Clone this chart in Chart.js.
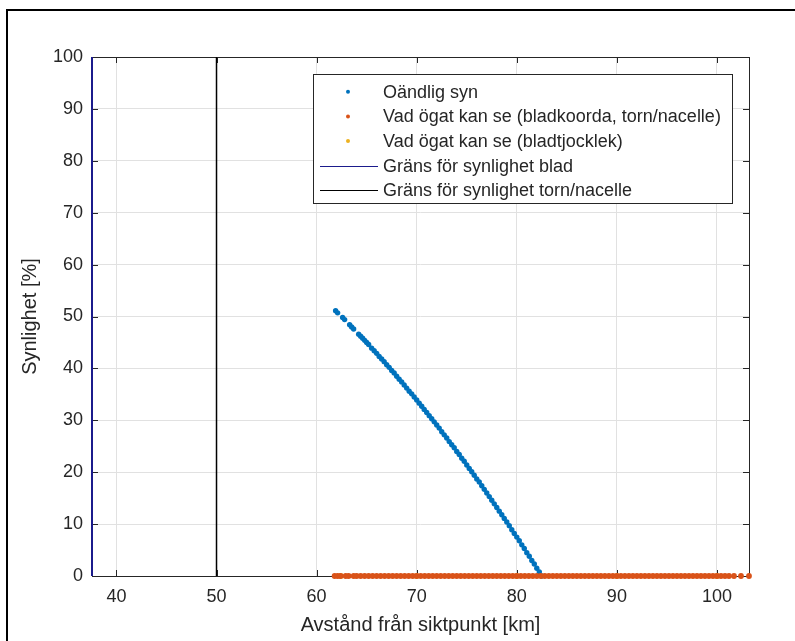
<!DOCTYPE html>
<html>
<head>
<meta charset="utf-8">
<script src="https://cdn.jsdelivr.net/npm/chart.js@4"></script>
<style>
    body { margin: 0; background: #fff; }
    #chart { display: block; }
</style>
</head>
<body>
<canvas id="chart" width="795" height="641"></canvas>
<script>
// Data
const seriesLabels = [
    'Oändlig syn',
    'Vad ögat kan se (bladkoorda, torn/nacelle)',
    'Vad ögat kan se (bladtjocklek)',
    'Gräns för synlighet blad',
    'Gräns för synlighet torn/nacelle'
];

const xTicks = [40, 50, 60, 70, 80, 90, 100];
const yTicks = [0, 10, 20, 30, 40, 50, 60, 70, 80, 90, 100];
const xRange = [37.56, 103.2];
const yRange = [0, 100];

// Oändlig syn
const infiniteX = [61.9, 62.1, 62.6, 62.8, 63.3, 63.5, 63.7, 64.2, 64.4, 64.6, 64.8, 65.0, 65.2,
    65.5, 65.75, 66.0, 66.25, 66.5, 66.75, 67.0, 67.25, 67.5, 67.75,
    68.0, 68.25, 68.5, 68.75, 69.0, 69.25, 69.5, 69.75,
    70.0, 70.25, 70.5, 70.75, 71.0, 71.25, 71.5, 71.75,
    72.0, 72.25, 72.5, 72.75, 73.0, 73.25, 73.5, 73.75,
    74.0, 74.25, 74.5, 74.75, 75.0, 75.25, 75.5, 75.75,
    76.0, 76.25, 76.5, 76.75, 77.0, 77.25, 77.5, 77.75,
    78.0, 78.25, 78.5, 78.75, 79.0, 79.25, 79.5, 79.75,
    80.0, 80.25, 80.5, 80.75, 81.0, 81.25, 81.5, 81.75,
    82.0, 82.25, 82.5];
const infiniteY = [51.1, 50.7, 49.8, 49.4, 48.4, 48.0, 47.6, 46.6, 46.2, 45.8, 45.4, 45.0, 44.6,
    43.9, 43.4, 42.9, 42.3, 41.8, 41.3, 40.7, 40.2, 39.6, 39.1,
    38.5, 37.9, 37.4, 36.8, 36.2, 35.6, 35.1, 34.5,
    33.9, 33.3, 32.7, 32.1, 31.5, 30.9, 30.3, 29.7,
    29.1, 28.5, 27.8, 27.2, 26.6, 25.9, 25.3, 24.7,
    24.0, 23.4, 22.7, 22.1, 21.4, 20.7, 20.1, 19.4,
    18.7, 18.1, 17.4, 16.7, 16.0, 15.3, 14.6, 13.9,
    13.2, 12.5, 11.8, 11.1, 10.4, 9.7, 8.9, 8.2,
    7.5, 6.8, 6.0, 5.3, 4.5, 3.8, 3.0, 2.3,
    1.5, 0.8, 0.0];

// Vad ögat kan se (bladkoorda, torn/nacelle)
const chordX = [61.8, 62.1, 62.4, 62.9, 63.2, 63.7, 64.0,
    64.4, 64.8, 65.2, 65.6, 66.0, 66.4, 66.8, 67.2, 67.6, 68.0,
    68.4, 68.8, 69.2, 69.6, 70.0, 70.4, 70.8, 71.2, 71.6, 72.0,
    72.4, 72.8, 73.2, 73.6, 74.0, 74.4, 74.8, 75.2, 75.6, 76.0,
    76.4, 76.8, 77.2, 77.6, 78.0, 78.4, 78.8, 79.2, 79.6, 80.0,
    80.4, 80.8, 81.2, 81.6, 82.0, 82.4, 82.8, 83.2, 83.6, 84.0,
    84.4, 84.8, 85.2, 85.6, 86.0, 86.4, 86.8, 87.2, 87.6, 88.0,
    88.4, 88.8, 89.2, 89.6, 90.0, 90.4, 90.8, 91.2, 91.6, 92.0,
    92.4, 92.8, 93.2, 93.6, 94.0, 94.4, 94.8, 95.2, 95.6, 96.0,
    96.4, 96.8, 97.2, 97.6, 98.0, 98.4, 98.8, 99.2, 99.6, 100.0,
    100.4, 100.8, 101.2,
    101.7, 102.4, 103.2];
const chordY = [0, 0, 0, 0, 0, 0, 0,
    0, 0, 0, 0, 0, 0, 0, 0, 0, 0,
    0, 0, 0, 0, 0, 0, 0, 0, 0, 0,
    0, 0, 0, 0, 0, 0, 0, 0, 0, 0,
    0, 0, 0, 0, 0, 0, 0, 0, 0, 0,
    0, 0, 0, 0, 0, 0, 0, 0, 0, 0,
    0, 0, 0, 0, 0, 0, 0, 0, 0, 0,
    0, 0, 0, 0, 0, 0, 0, 0, 0, 0,
    0, 0, 0, 0, 0, 0, 0, 0, 0, 0,
    0, 0, 0, 0, 0, 0, 0, 0, 0, 0,
    0, 0, 0,
    0, 0, 0];

// Vad ögat kan se (bladtjocklek) - hidden under the orange points
const thicknessX = [62.4, 70.0, 80.0, 90.0, 100.0];
const thicknessY = [0, 0, 0, 0, 0];

// Limit lines
const bladeLimitX = [37.56, 37.56];
const towerLimitX = [50, 50];
const limitY = [0, 100];

const colors = ['#0072BD', '#D95319', '#EDB120', '#1b1b8c', '#000000'];
const axisColor = '#262626';
const fontFamily = '"Liberation Sans", Arial, Helvetica, sans-serif';

function toPoints(xs, ys) {
    return xs.map((x, i) => ({ x: x, y: ys[i] }));
}

// Outer frame, axes box, inward tick marks
const boxPlugin = {
    id: 'box',
    beforeDraw(chart) {
        const ctx = chart.ctx;
        ctx.save();
        ctx.strokeStyle = '#000';
        ctx.lineWidth = 2;
        ctx.strokeRect(7, 10, 820, 700);
        ctx.restore();
    },
    beforeDatasetsDraw(chart) {
        const { ctx, chartArea: a, scales } = chart;
        ctx.save();
        ctx.strokeStyle = axisColor;
        ctx.lineWidth = 1;
        ctx.beginPath();
        xTicks.forEach(v => {
            const px = Math.round(scales.x.getPixelForValue(v)) + 0.5;
            ctx.moveTo(px, a.bottom); ctx.lineTo(px, a.bottom - 6);
            ctx.moveTo(px, a.top); ctx.lineTo(px, a.top + 6);
        });
        yTicks.forEach(v => {
            const py = Math.round(scales.y.getPixelForValue(v)) + 0.5;
            ctx.moveTo(a.left, py); ctx.lineTo(a.left + 6, py);
            ctx.moveTo(a.right, py); ctx.lineTo(a.right - 6, py);
        });
        ctx.stroke();
        ctx.strokeRect(Math.round(a.left) + 0.5, Math.round(a.top) + 0.5,
            Math.round(a.right - a.left), Math.round(a.bottom - a.top));
        ctx.restore();
    }
};

// MATLAB-style legend inside the axes
const legendPlugin = {
    id: 'insideLegend',
    afterDraw(chart) {
        const ctx = chart.ctx;
        const left = 313, top = 74, width = 419, height = 129;
        const rowY = [91.7, 116.4, 141, 165.7, 190.4];
        ctx.save();
        ctx.fillStyle = '#fff';
        ctx.fillRect(left, top, width, height);
        ctx.strokeStyle = axisColor;
        ctx.lineWidth = 1;
        ctx.strokeRect(left + 0.5, top + 0.5, width, height);
        ctx.font = '18px ' + fontFamily;
        ctx.textBaseline = 'middle';
        chart.data.datasets.forEach((ds, i) => {
            const y = rowY[i];
            if (ds.showLine) {
                ctx.strokeStyle = ds.borderColor;
                ctx.lineWidth = 1;
                ctx.beginPath();
                ctx.moveTo(320, Math.round(y) + 0.5);
                ctx.lineTo(378, Math.round(y) + 0.5);
                ctx.stroke();
            } else {
                ctx.fillStyle = ds.backgroundColor;
                ctx.beginPath();
                ctx.arc(348, y, 2, 0, Math.PI * 2);
                ctx.fill();
            }
            ctx.fillStyle = axisColor;
            ctx.fillText(ds.label, 383, y + 1);
        });
        ctx.restore();
    }
};

const scatterStyle = (label, color, order, radius) => ({
    label: label,
    backgroundColor: color,
    borderColor: color,
    pointBackgroundColor: color,
    pointBorderWidth: 0,
    pointRadius: radius,
    showLine: false,
    clip: false,
    order: order
});

const lineStyle = (label, color, order, width) => ({
    label: label,
    borderColor: color,
    backgroundColor: color,
    borderWidth: width,
    pointRadius: 0,
    showLine: true,
    clip: false,
    order: order
});

new Chart(document.getElementById('chart'), {
    type: 'scatter',
    data: {
        datasets: [
            Object.assign(scatterStyle(seriesLabels[0], colors[0], 5, 2.7), { data: toPoints(infiniteX, infiniteY) }),
            Object.assign(scatterStyle(seriesLabels[1], colors[1], 3, 2.9), { data: toPoints(chordX, chordY) }),
            Object.assign(scatterStyle(seriesLabels[2], colors[2], 4, 2.9), { data: toPoints(thicknessX, thicknessY) }),
            Object.assign(lineStyle(seriesLabels[3], colors[3], 1, 2), { data: toPoints(bladeLimitX, limitY) }),
            Object.assign(lineStyle(seriesLabels[4], colors[4], 2, 1.5), { data: toPoints(towerLimitX, limitY) })
        ]
    },
    options: {
        responsive: false,
        animation: false,
        layout: { padding: { left: 0, top: 57, right: 46, bottom: 0 } },
        plugins: {
            legend: { display: false },
            tooltip: { enabled: false }
        },
        scales: {
            x: {
                type: 'linear',
                min: xRange[0],
                max: xRange[1],
                afterBuildTicks: s => { s.ticks = xTicks.map(v => ({ value: v })); },
                afterFit: s => { s.height = 65; },
                grid: { color: '#e1e1e1', drawTicks: false },
                border: { display: false },
                ticks: {
                    padding: 10,
                    color: axisColor,
                    font: { family: fontFamily, size: 18 },
                    maxRotation: 0
                },
                title: {
                    display: true,
                    text: 'Avstånd från siktpunkt [km]',
                    color: axisColor,
                    font: { family: fontFamily, size: 20 },
                    padding: { top: 0, bottom: 4 }
                }
            },
            y: {
                type: 'linear',
                min: yRange[0],
                max: yRange[1],
                afterBuildTicks: s => { s.ticks = yTicks.map(v => ({ value: v })); },
                afterFit: s => { s.width = 92; },
                grid: { color: '#e1e1e1', drawTicks: false },
                border: { display: false },
                ticks: {
                    padding: 9,
                    color: axisColor,
                    font: { family: fontFamily, size: 18 }
                },
                title: {
                    display: true,
                    text: 'Synlighet [%]',
                    color: axisColor,
                    font: { family: fontFamily, size: 20 },
                    padding: { top: 18, bottom: 0 }
                }
            }
        }
    },
    plugins: [boxPlugin, legendPlugin]
});
</script>
</body>
</html>
